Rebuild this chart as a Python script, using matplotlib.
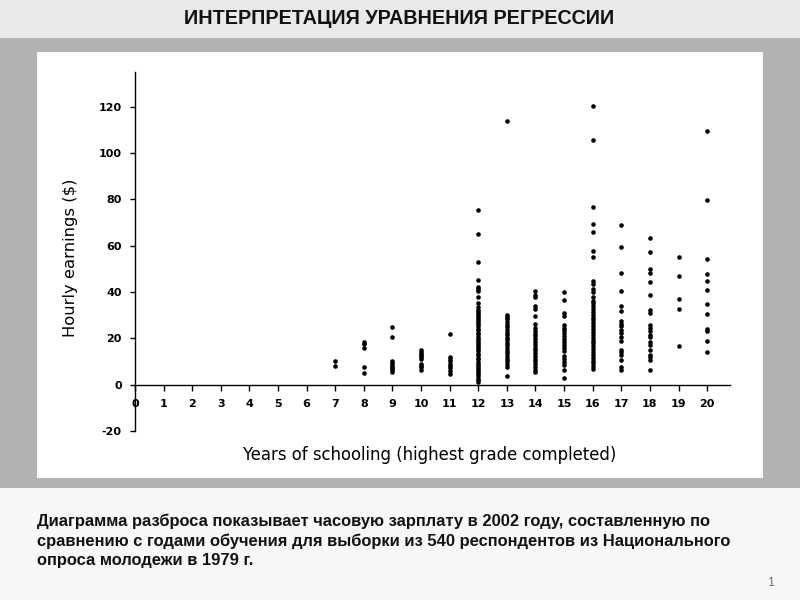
import matplotlib
matplotlib.use("Agg")
import matplotlib.pyplot as plt
from matplotlib.patches import Rectangle

# ---- data (hourly earnings by years of schooling) ----
schooling_years = [7, 8, 9, 10, 11, 12, 13, 14, 15, 16, 17, 18, 19, 20]
wage_7 = [10.4, 7.9]
wage_8 = [18.3, 17.6, 15.7, 7.8, 4.9]
wage_9 = [25.0, 20.7, 10.4, 9.5, 8.6, 7.8, 7.0, 6.2, 5.6]
wage_10 = [15.0, 14.2, 13.4, 12.6, 11.8, 11.0, 9.0, 8.2, 7.4, 6.5]
wage_11 = [21.9, 11.8, 10.9, 10.0, 9.1, 8.2, 7.0, 6.0, 4.6]
wage_12 = [75.4, 65.0, 53.1, 45.2, 42.3, 41.2, 40.3, 38.0, 35.1, 33.4, 32.3,
           31.5, 30.6, 29.7, 28.9, 27.8, 27.1, 26.0, 25.3, 24.2, 23.5, 22.4,
           21.7, 20.6, 19.9, 18.8, 18.1, 17.0, 16.3, 15.2, 14.5, 13.4, 12.7,
           11.6, 10.9, 9.8, 9.1, 8.0, 7.3, 6.2, 5.5, 4.4, 3.7, 2.6, 1.9, 1.2]
wage_13 = [113.9, 30.1, 29.0, 28.2, 27.0, 25.8, 24.9, 23.6, 22.5, 21.4, 20.2,
           19.3, 18.1, 17.0, 15.8, 14.6, 13.5, 12.4, 11.2, 10.1, 9.0, 7.5, 3.7]
wage_14 = [40.6, 38.8, 38.0, 34.0, 32.8, 29.5, 26.0, 24.6, 23.3, 22.0, 20.8,
           19.6, 18.4, 17.2, 16.0, 14.8, 13.6, 12.4, 11.2, 10.0, 8.8, 7.6,
           6.4, 5.3]
wage_15 = [39.9, 36.4, 30.9, 29.5, 25.9, 24.6, 23.4, 22.1, 20.9, 19.6, 18.4,
           17.1, 15.8, 14.4, 12.2, 11.0, 9.8, 8.6, 6.5, 2.9]
wage_16 = [120.1, 105.4, 76.8, 69.1, 65.8, 57.8, 55.0, 44.9, 43.5, 41.3, 39.8,
           38.0, 36.3, 35.1, 33.9, 32.6, 31.4, 30.1, 28.9, 27.7, 26.4, 25.2,
           24.0, 22.7, 21.5, 20.3, 19.0, 17.8, 16.6, 15.3, 14.1, 12.9, 11.6,
           10.4, 9.2, 8.0, 6.8]
wage_17 = [69.0, 59.2, 48.3, 40.5, 33.8, 31.8, 27.3, 26.0, 25.1, 23.6, 22.2,
           20.5, 18.7, 15.1, 14.0, 12.9, 10.8, 7.6, 6.5]
wage_18 = [63.3, 57.1, 49.9, 48.1, 44.4, 38.6, 32.0, 30.9, 25.9, 24.5, 23.0,
           21.6, 20.5, 18.5, 17.3, 15.0, 12.9, 11.8, 10.8, 6.2]
wage_19 = [54.9, 46.8, 37.0, 32.8, 16.6]
wage_20 = [109.4, 79.8, 54.2, 47.9, 44.8, 41.0, 34.7, 30.6, 24.2, 23.0, 18.8, 14.0]

wages_by_year = [wage_7, wage_8, wage_9, wage_10, wage_11, wage_12, wage_13,
                 wage_14, wage_15, wage_16, wage_17, wage_18, wage_19, wage_20]

x_ticks = list(range(0, 21))
y_ticks = [-20, 0, 20, 40, 60, 80, 100, 120]

title_text = "ИНТЕРПРЕТАЦИЯ УРАВНЕНИЯ РЕГРЕССИИ"
x_label = "Years of schooling (highest grade completed)"
y_label = "Hourly earnings ($)"
caption_lines = [
    "Диаграмма разброса показывает часовую зарплату в 2002 году, составленную по",
    "сравнению с годами обучения для выборки из 540 респондентов из Национального",
    "опроса молодежи в 1979 г.",
]
page_number = "1"

# ---- figure ----
plt.rcParams['font.family'] = ['Liberation Sans', 'DejaVu Sans']
plt.rcParams['axes.unicode_minus'] = False
W, H = 800, 600
fig = plt.figure(figsize=(W / 100, H / 100), dpi=100)
fig.patch.set_facecolor('#f8f8f8')

def px_rect(x0, y0, x1, y1, color):
    fig.patches.append(Rectangle((x0 / W, 1 - y1 / H), (x1 - x0) / W, (y1 - y0) / H,
                                 transform=fig.transFigure, facecolor=color,
                                 edgecolor='none', zorder=-10))

px_rect(0, 0, 800, 38, '#e9e9e9')
px_rect(0, 38, 800, 488, '#b2b2b2')
px_rect(37, 52, 763, 478, '#ffffff')

fig.text(399 / W, 1 - 19 / H, title_text, ha='center', va='center',
         fontsize=14.2, fontweight='bold', color='#111111')

ax = fig.add_axes([135 / W, 1 - 431 / H, (730 - 135) / W, (431 - 72) / H])
ax.set_facecolor('none')

for yr, wages in zip(schooling_years, wages_by_year):
    ax.plot([yr] * len(wages), wages, linestyle='none', marker='o',
            markersize=3.3, markeredgewidth=0, color='black')

ax.set_xlim(0, 20.8)
ax.set_ylim(-20, 134.9)
ax.spines['top'].set_visible(False)
ax.spines['right'].set_visible(False)
ax.spines['bottom'].set_position(('data', 0))
ax.spines['left'].set_linewidth(1.0)
ax.spines['bottom'].set_linewidth(1.0)
ax.set_xticks(x_ticks)
ax.set_yticks(y_ticks)
ax.tick_params(axis='x', direction='out', length=4, width=1, pad=6)
ax.tick_params(axis='y', direction='out', length=3.5, width=1, pad=6)
for lab in ax.get_xticklabels() + ax.get_yticklabels():
    lab.set_fontweight('bold')
    lab.set_fontsize(8)
    lab.set_fontfamily('DejaVu Sans')

fig.text(70 / W, 1 - 258 / H, y_label, rotation=90, ha='center', va='center',
         fontsize=11.8, family='DejaVu Sans')
fig.text(430 / W, 1 - 455 / H, x_label, ha='center', va='center', fontsize=11.9,
         family='DejaVu Sans')

for i, line in enumerate(caption_lines):
    fig.text(37 / W, 1 - (521 + 20 * i) / H, line, ha='left', va='center',
             fontsize=11.9, fontweight='bold', color='#111111')

fig.text(771 / W, 1 - 583 / H, page_number, ha='center', va='center',
         fontsize=9, color='#5a6ebf')

fig.savefig('out.png', dpi=100, facecolor=fig.get_facecolor())
